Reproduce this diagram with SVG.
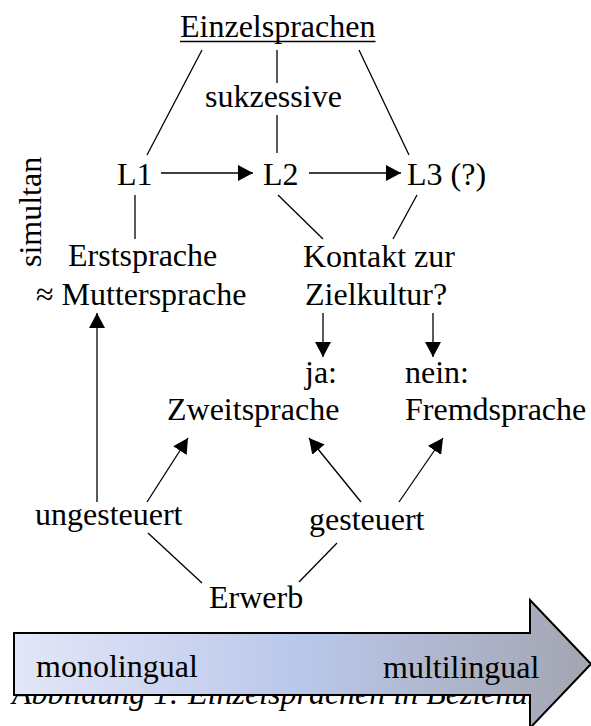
<svg xmlns="http://www.w3.org/2000/svg" width="591" height="726" viewBox="0 0 591 726">
<style>
text{font-family:"Liberation Serif","Times New Roman",serif;font-size:32px;fill:#000}
.cap{font-style:italic}
.ln{stroke:#000;stroke-width:1.3;fill:none}
.ar{marker-end:url(#ah)}
</style>
<defs>
<marker id="ah" viewBox="0 0 16 16" refX="15" refY="8" markerWidth="16" markerHeight="16" markerUnits="userSpaceOnUse" orient="auto">
<path d="M0,0 L15,8 L0,16 Z" fill="#000"/>
</marker>
<linearGradient id="grad" gradientUnits="userSpaceOnUse" x1="14" y1="0" x2="591" y2="0">
<stop offset="0" stop-color="#e3e6f7"/>
<stop offset="0.5" stop-color="#bac7ea"/>
<stop offset="1" stop-color="#a3a5b0"/>
</linearGradient>
<clipPath id="capclip"><rect x="0" y="600" width="530" height="126"/></clipPath>
</defs>
<rect width="591" height="726" fill="#fff"/>
<g id="connectors">
<line class="ln" x1="277" y1="50" x2="277" y2="83"/>
<line class="ln" x1="277" y1="115" x2="277" y2="153"/>
<line class="ln" x1="202" y1="50" x2="147" y2="155"/>
<line class="ln" x1="359" y1="50" x2="409" y2="155"/>
<line class="ln ar" x1="161" y1="173" x2="253" y2="173"/>
<line class="ln ar" x1="309" y1="173" x2="401" y2="173"/>
<line class="ln" x1="135" y1="195" x2="135" y2="239"/>
<line class="ln" x1="278" y1="195" x2="323" y2="239"/>
<line class="ln" x1="417" y1="195" x2="393" y2="239"/>
<line class="ln ar" x1="323" y1="313" x2="323" y2="357"/>
<line class="ln ar" x1="433" y1="313" x2="433" y2="357"/>
<line class="ln ar" x1="97" y1="502" x2="97" y2="313"/>
<line class="ln ar" x1="147" y1="502" x2="188" y2="438"/>
<line class="ln ar" x1="361" y1="502" x2="309" y2="438"/>
<line class="ln ar" x1="399" y1="502" x2="443" y2="438"/>
<line class="ln" x1="148" y1="533" x2="202" y2="583"/>
<line class="ln" x1="337" y1="543" x2="299" y2="582"/>
</g>
<g id="einzelsprachen">
<text x="180" y="37">Einzelsprachen</text>
<line x1="180" y1="41.5" x2="375.5" y2="41.5" stroke="#000" stroke-width="1.6"/>
</g>
<g id="sukzessive"><text x="205" y="107">sukzessive</text></g>
<g id="simultan"><text transform="translate(41,267) rotate(-90)">simultan</text></g>
<g id="l1"><text x="117" y="185">L1</text></g>
<g id="l2"><text x="263" y="185">L2</text></g>
<g id="l3"><text x="407" y="185">L3 (?)</text></g>
<g id="erstsprache">
<text x="68" y="266">Erstsprache</text>
<text x="36" y="305">≈ Muttersprache</text>
</g>
<g id="kontakt">
<text x="303" y="267">Kontakt zur</text>
<text x="305" y="305">Zielkultur?</text>
</g>
<g id="zweitsprache">
<text x="337" y="383" text-anchor="end">ja:</text>
<text x="167" y="420">Zweitsprache</text>
</g>
<g id="fremdsprache">
<text x="405" y="383">nein:</text>
<text x="405" y="420">Fremdsprache</text>
</g>
<g id="ungesteuert"><text x="35" y="525">ungesteuert</text></g>
<g id="gesteuert"><text x="309" y="530">gesteuert</text></g>
<g id="erwerb"><text x="209" y="608">Erwerb</text></g>
<g id="caption" clip-path="url(#capclip)"><text class="cap" x="12" y="704">Abbildung 1: Einzelsprachen in Beziehung</text></g>
<g id="scale-arrow">
<path d="M14,633 H530 V600 L591,664 L530,728 V695 H14 Z" fill="url(#grad)" stroke="#000" stroke-width="2" stroke-linejoin="miter"/>
<text x="36" y="677">monolingual</text>
<text x="383" y="678">multilingual</text>
</g>
</svg>
